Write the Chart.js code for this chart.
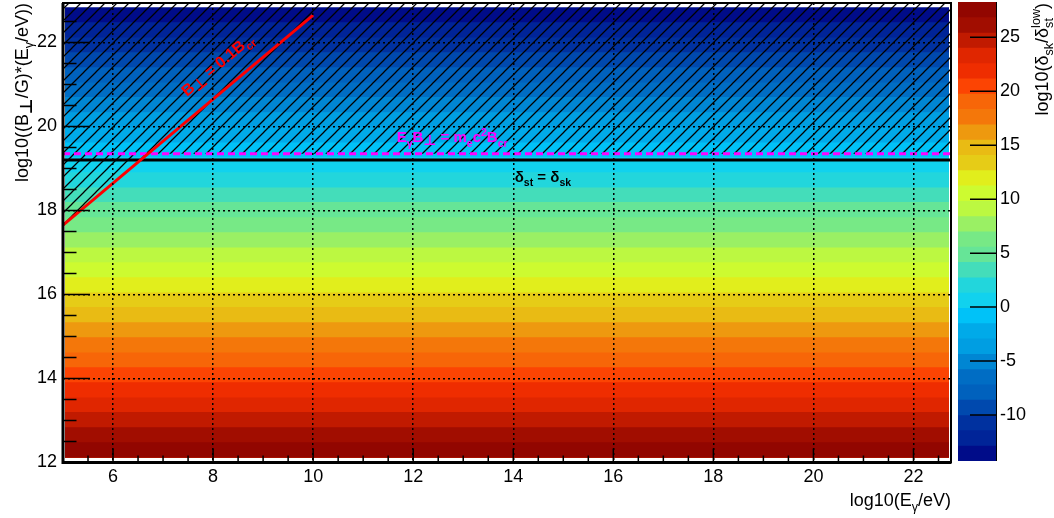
<!DOCTYPE html>
<html>
<head>
<meta charset="utf-8">
<script src="https://cdn.jsdelivr.net/npm/chart.js@4.4.1/dist/chart.umd.min.js"></script>
<style>
  html, body { margin: 0; padding: 0; background: #fff; }
  #wrap { position: relative; width: 1054px; height: 518px; overflow: hidden; }
  #main { position: absolute; left: 0; top: 0; }
  #pal  { position: absolute; left: 951px; top: 0; }
</style>
</head>
<body>
<div id="wrap">
  <canvas id="main" width="1054" height="518"></canvas>
  <canvas id="pal" width="103" height="518"></canvas>
</div>
<script>
// ---- axis ranges of the frame ----
const xRange = [5, 22.75];
const yRange = [12, 22.94];
const zRange = [-14.26, 28.27];

// ---- tick labels ----
const xTicks = [6, 8, 10, 12, 14, 16, 18, 20, 22];
const yTicks = [12, 14, 16, 18, 20, 22];
const zTicks = [-10, -5, 0, 5, 10, 15, 20, 25];

// ---- histogram: filled x extent, row edges in log10(B*E) and log10(dsk/dst) per row ----
const rowX = [5.04, 22.71];
const rowEdgesY = [12.12, 12.48, 12.84, 13.20, 13.55, 13.91, 14.27, 14.62, 14.98, 15.34,
                   15.70, 16.05, 16.41, 16.77, 17.12, 17.48, 17.84, 18.20, 18.55, 18.91,
                   19.27, 19.62, 19.98, 20.34, 20.70, 21.05, 21.41, 21.77, 22.12, 22.48, 22.84];
const rowZ = [27.56, 26.14, 24.73, 23.31, 21.89, 20.47, 19.06, 17.64, 16.22, 14.80,
              13.38, 11.97, 10.55, 9.13, 7.71, 6.30, 4.88, 3.46, 2.04, 0.63,
              -0.79, -2.21, -3.63, -5.04, -6.46, -7.88, -9.30, -10.71, -12.13, -13.55];

// ---- contour levels of the colour scale ----
const zLevels = [-14.26, -12.84, -11.42, -10.01, -8.59, -7.17, -5.75, -4.34, -2.92, -1.50,
                 -0.08, 1.33, 2.75, 4.17, 5.59, 7.01, 8.42, 9.84, 11.26, 12.68,
                 14.09, 15.51, 16.93, 18.35, 19.76, 21.18, 22.60, 24.02, 25.43, 26.85, 28.27];

// ---- reference lines ----
const critY = 19.35;              // E_gamma * B_perp = m_e c^2 B_cr
const equalY = 19.2;              // delta_st = delta_sk
const perpX = [5, 10];            // B_perp = 0.1 B_cr
const perpY = [17.65, 22.65];

const FONT = '"Liberation Sans", "DejaVu Sans", Arial, sans-serif';
Chart.defaults.font.family = FONT;
Chart.defaults.color = '#000';

// 50-colour rainbow palette (deep blue -> cyan -> yellow -> red -> dark red)
function makePalette(n) {
  const stops = [0.00, 0.34, 0.61, 0.84, 1.00];
  const R = [0.00, 0.00, 0.87, 1.00, 0.51];
  const G = [0.00, 0.81, 1.00, 0.20, 0.00];
  const B = [0.51, 1.00, 0.12, 0.00, 0.00];
  const out = [];
  for (let g = 1; g < stops.length; g++) {
    const nc = Math.floor(n * stops[g] + 1e-9) - Math.floor(n * stops[g - 1] + 1e-9);
    for (let c = 0; c < nc; c++) {
      const r = R[g - 1] + c * (R[g] - R[g - 1]) / nc;
      const gg = G[g - 1] + c * (G[g] - G[g - 1]) / nc;
      const b = B[g - 1] + c * (B[g] - B[g - 1]) / nc;
      out.push(`rgb(${Math.round(r * 255)},${Math.round(gg * 255)},${Math.round(b * 255)})`);
    }
  }
  return out;
}
const palette = makePalette(50);
function levelIndex(z) {
  let k = 0;
  while (k < zLevels.length - 2 && z >= zLevels[k + 1]) k++;
  return k;
}
function levelColor(k) {
  const n = zLevels.length - 1;
  return palette[Math.min(palette.length - 1, Math.floor((k + 0.99) * palette.length / n))];
}

// text with sub/superscripts, drawn on the baseline at (x, y)
function richText(ctx, parts, x, y, size, weight, align) {
  const items = parts.map(p => typeof p === 'string' ? { t: p } : p);
  const font = (s, w) => `${w || weight} ${s}px ${FONT}`;
  const widths = items.map(it => {
    if (it.sub !== undefined) {
      ctx.font = font(size * 0.7);
      return Math.max(ctx.measureText(it.sub).width, ctx.measureText(it.sup).width);
    }
    ctx.font = font(size * (it.k || (it.pos ? 0.7 : 1)), it.w);
    return ctx.measureText(it.t).width;
  });
  const total = widths.reduce((a, b) => a + b, 0);
  let cx = align === 'right' ? x - total : align === 'center' ? x - total / 2 : x;
  ctx.textAlign = 'left';
  ctx.textBaseline = 'alphabetic';
  items.forEach((it, i) => {
    if (it.sub !== undefined) {
      ctx.font = font(size * 0.7);
      ctx.fillText(it.sub, cx, y + size * 0.3);
      ctx.fillText(it.sup, cx, y - size * 0.45);
    } else {
      ctx.font = font(size * (it.k || (it.pos ? 0.7 : 1)), it.w);
      const dy = it.pos === 'sub' ? size * (it.dy !== undefined ? it.dy : 0.3)
               : it.pos === 'sup' ? -size * 0.4 : 0;
      ctx.fillText(it.t, cx, y + dy);
    }
    cx += widths[i];
  });
}

// diagonal "/" hatch tile
function hatchPattern(ctx) {
  const s = 12;
  const tile = document.createElement('canvas');
  tile.width = s; tile.height = s;
  const g = tile.getContext('2d');
  g.strokeStyle = '#000';
  g.lineWidth = 1.25;
  g.beginPath();
  for (const o of [-s, 0, s]) { g.moveTo(o - 1, s + 1); g.lineTo(o + s + 1, -1); }
  g.stroke();
  return ctx.createPattern(tile, 'repeat');
}

// ---------------- main 2D map ----------------
const mainCanvas = document.getElementById('main');
const mainCtx = mainCanvas.getContext('2d');

const rowSets = rowZ.map((z, b) => ({
  data: [{ x: rowX[0], y: rowEdgesY[b + 1] }, { x: rowX[1], y: rowEdgesY[b + 1] }],
  fill: { value: rowEdgesY[0] },
  backgroundColor: levelColor(levelIndex(z)),
  borderColor: 'rgba(0,0,0,0)', borderWidth: 0, pointRadius: 0, order: 10
}));

// hatched zone: above B_perp = 0.1 B_cr or above E*B = m c^2 B_cr
const xCross = perpX[0] + (critY - perpY[0]) * (perpX[1] - perpX[0]) / (perpY[1] - perpY[0]);
const hatchSet = {
  data: [{ x: xRange[0], y: perpY[0] + (xRange[0] - perpX[0]) * (perpY[1] - perpY[0]) / (perpX[1] - perpX[0]) },
         { x: xCross, y: critY }, { x: xRange[1], y: critY }],
  fill: 'end', backgroundColor: hatchPattern(mainCtx),
  borderColor: 'rgba(0,0,0,0)', borderWidth: 0, pointRadius: 0, order: 5
};

const lineSets = [
  { data: [{ x: perpX[0], y: perpY[0] }, { x: perpX[1], y: perpY[1] }],
    borderColor: '#ff0000', borderWidth: 3, pointRadius: 0, fill: false, order: 1 },
  { data: [{ x: xRange[0], y: equalY }, { x: xRange[1], y: equalY }],
    borderColor: '#000000', borderWidth: 3, pointRadius: 0, fill: false, order: 2 },
  { data: [{ x: xRange[0], y: critY }, { x: xRange[1], y: critY }],
    borderColor: '#ff00ff', borderWidth: 3, borderDash: [7, 4], pointRadius: 0, fill: false, order: 3 }
];

const frameAndLabels = {
  id: 'frameAndLabels',
  afterDraw(chart) {
    const { ctx, chartArea: a, scales: { x, y } } = chart;
    ctx.save();
    // inward tick marks
    ctx.strokeStyle = '#000';
    ctx.lineWidth = 1.5;
    ctx.beginPath();
    for (let v = yRange[0]; v <= yRange[1] + 1e-9; v += 0.5) {
      const py = y.getPixelForValue(v);
      const len = yTicks.includes(v) ? 27 : 13.5;
      ctx.moveTo(a.left, py); ctx.lineTo(a.left + len, py);
    }
    for (let v = xRange[0] + 0.5; v <= xRange[1] + 1e-9; v += 0.5) {
      const px = x.getPixelForValue(v);
      const len = xTicks.includes(v) ? 14 : 7;
      ctx.moveTo(px, a.bottom); ctx.lineTo(px, a.bottom - len);
    }
    ctx.stroke();
    // frame
    ctx.lineWidth = 2;
    ctx.strokeRect(a.left, a.top, a.right - a.left, a.bottom - a.top);
    ctx.lineWidth = 3;
    ctx.beginPath();
    ctx.moveTo(a.left, a.top); ctx.lineTo(a.left, a.bottom); ctx.lineTo(a.right, a.bottom);
    ctx.stroke();

    // axis titles
    ctx.fillStyle = '#000';
    richText(ctx, ['log10(E', { t: 'γ', pos: 'sub' }, '/eV)'], a.right, 506, 18, 'normal', 'right');
    ctx.save();
    ctx.translate(28, a.top);
    ctx.rotate(-Math.PI / 2);
    richText(ctx, ['log10((B', { t: '⊥', pos: 'sub', k: 0.95, w: 'bold', dy: 0.2 }, '/G)*(E',
                   { t: 'γ', pos: 'sub' }, '/eV))'], 0, 0, 18, 'normal', 'right');
    ctx.restore();

    // line labels
    const ang = Math.atan2(y.getPixelForValue(perpY[1]) - y.getPixelForValue(perpY[0]),
                           x.getPixelForValue(perpX[1]) - x.getPixelForValue(perpX[0]));
    ctx.save();
    ctx.translate(x.getPixelForValue(7.48), y.getPixelForValue(20.70));
    ctx.rotate(ang);
    ctx.fillStyle = '#ff0000';
    richText(ctx, ['B', { t: '⊥', pos: 'sub', k: 0.95, dy: 0.2 }, ' = 0.1B', { t: 'cr', pos: 'sub' }],
             0, 0, 16, 'bold', 'left');
    ctx.restore();

    ctx.fillStyle = '#ff00ff';
    richText(ctx, ['E', { t: 'γ', pos: 'sub' }, 'B', { t: '⊥', pos: 'sub', k: 0.95, dy: 0.2 }, ' = m',
                   { t: 'e', pos: 'sub' }, 'c', { t: '2', pos: 'sup' }, 'B', { t: 'cr', pos: 'sub' }],
             x.getPixelForValue(11.67), y.getPixelForValue(19.62), 15, 'bold', 'left');
    ctx.fillStyle = '#000';
    richText(ctx, ['δ', { t: 'st', pos: 'sub' }, ' = δ', { t: 'sk', pos: 'sub' }],
             x.getPixelForValue(14.03), y.getPixelForValue(18.69), 15, 'bold', 'left');
    ctx.restore();
  }
};

new Chart(mainCtx, {
  type: 'line',
  data: { datasets: [...rowSets, hatchSet, ...lineSets] },
  options: {
    responsive: false, animation: false, devicePixelRatio: 1, events: [],
    layout: { padding: { top: 3, right: 103, left: 0, bottom: 0 }, autoPadding: false },
    plugins: { legend: { display: false }, tooltip: { enabled: false } },
    elements: { line: { tension: 0 } },
    scales: {
      x: {
        type: 'linear', min: xRange[0], max: xRange[1],
        afterBuildTicks: s => { s.ticks = xTicks.map(v => ({ value: v })); },
        afterFit: s => { s.height = 55.5; s.paddingLeft = 0; s.paddingRight = 0; },
        grid: { color: '#000', lineWidth: 1.5, z: 1, drawTicks: false },
        border: { display: false, dash: [2, 3] },
        ticks: { font: { size: 18 }, color: '#000', padding: 4, maxRotation: 0, autoSkip: false }
      },
      y: {
        type: 'linear', min: yRange[0], max: yRange[1],
        afterBuildTicks: s => { s.ticks = yTicks.map(v => ({ value: v })); },
        afterFit: s => { s.width = 63; s.paddingTop = 0; s.paddingBottom = 0; },
        grid: { color: '#000', lineWidth: 1.5, z: 1, drawTicks: false },
        border: { display: false, dash: [2, 3] },
        ticks: { font: { size: 18 }, color: '#000', padding: 6, autoSkip: false }
      }
    }
  },
  plugins: [frameAndLabels]
});

// ---------------- colour scale ----------------
const palCtx = document.getElementById('pal').getContext('2d');
const bandSets = zLevels.slice(1).map((top, k) => ({
  data: [{ x: 0, y: top }, { x: 1, y: top }],
  fill: { value: zLevels[0] },
  backgroundColor: levelColor(k),
  borderColor: 'rgba(0,0,0,0)', borderWidth: 0, pointRadius: 0
}));

const paletteAxis = {
  id: 'paletteAxis',
  afterDraw(chart) {
    const { ctx, chartArea: a, scales: { y } } = chart;
    ctx.save();
    ctx.strokeStyle = '#000';
    ctx.lineWidth = 1.5;
    ctx.beginPath();
    zTicks.forEach(v => {
      const py = y.getPixelForValue(v);
      ctx.moveTo(a.right, py); ctx.lineTo(a.right - 26, py);
    });
    ctx.stroke();
    ctx.lineWidth = 1;
    ctx.beginPath();
    ctx.moveTo(a.right + 0.5, a.top); ctx.lineTo(a.right + 0.5, a.bottom);
    ctx.stroke();
    ctx.fillStyle = '#000';
    ctx.translate(97, a.top + 1);
    ctx.rotate(-Math.PI / 2);
    richText(ctx, ['log10(δ', { t: 'sk', pos: 'sub' }, '/δ', { sub: 'st', sup: 'low' }, ')'],
             0, 0, 18, 'normal', 'right');
    ctx.restore();
  }
};

new Chart(palCtx, {
  type: 'line',
  data: { datasets: bandSets },
  options: {
    responsive: false, animation: false, devicePixelRatio: 1, events: [],
    layout: { padding: { top: 2, right: 0, left: 7, bottom: 57 }, autoPadding: false },
    plugins: { legend: { display: false }, tooltip: { enabled: false } },
    scales: {
      x: { type: 'linear', min: 0, max: 1, display: false },
      y: {
        type: 'linear', position: 'right', min: zRange[0], max: zRange[1],
        afterBuildTicks: s => { s.ticks = zTicks.map(v => ({ value: v })); },
        afterFit: s => { s.width = 58; s.paddingTop = 0; s.paddingBottom = 0; },
        grid: { display: false, drawTicks: false },
        border: { display: false },
        ticks: { font: { size: 18 }, color: '#000', padding: 4, autoSkip: false }
      }
    }
  },
  plugins: [paletteAxis]
});
</script>
</body>
</html>
